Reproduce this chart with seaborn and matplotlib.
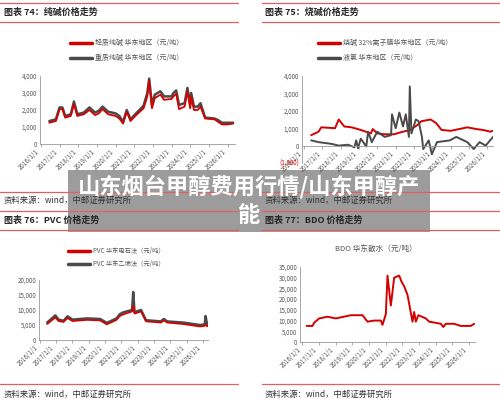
import numpy as np
import matplotlib
matplotlib.use("Agg")
import matplotlib.pyplot as plt
import seaborn as sns
import pandas as pd
from matplotlib.patches import Rectangle
from matplotlib.lines import Line2D

sns.set_theme(style="white")
plt.rcParams['font.family'] = ['Noto Sans CJK SC', 'DejaVu Sans']

RED = "#d40000"
GRAY = "#4a4a4a"
LINE_RED = "#e06060"

# ---- data (year as decimal, value) ----
soda_x = [2016.45, 2016.8, 2017.0, 2017.15, 2017.3, 2017.6, 2017.77, 2017.95, 2018.3, 2018.6, 2018.9, 2019.1, 2019.3,
          2019.6, 2020.0, 2020.2, 2020.4, 2020.6, 2020.8, 2021.1, 2021.5, 2021.7, 2021.8, 2021.95, 2022.1, 2022.4,
          2022.6, 2023.0, 2023.1, 2023.25, 2023.4, 2023.7, 2023.85, 2024.0, 2024.05, 2024.2, 2024.4, 2024.55, 2024.8,
          2025.3, 2025.5, 2025.7, 2026.0, 2026.3]
soda_light = [1250, 1350, 2050, 2050, 1550, 1650, 2350, 1650, 1750, 2000, 1700, 1800, 2050,
              1750, 1650, 1500, 1200, 1900, 1350, 1700, 2100, 2800, 3700, 2100, 2700, 2900,
              2600, 2650, 2800, 2950, 2050, 2200, 3100, 2100, 2800, 2000, 2000, 2200, 1500,
              1450, 1300, 1150, 1150, 1200]
soda_heavy = [1350, 1450, 2150, 2150, 1650, 1750, 2500, 1750, 1850, 2150, 1850, 1950, 2200,
              1900, 1800, 1650, 1300, 2000, 1450, 1800, 2250, 3000, 3850, 2300, 2900, 3100,
              2800, 2800, 3000, 3150, 2300, 2400, 3300, 2300, 3000, 2200, 2200, 2400, 1550,
              1500, 1400, 1250, 1250, 1250]

caustic_x = [2016.4, 2016.8, 2016.95, 2017.7, 2017.9, 2018.2, 2018.6, 2019.1, 2019.65, 2019.75, 2020.0, 2020.4,
             2020.9, 2021.4, 2021.8, 2022.2, 2022.4, 2022.9, 2023.2, 2023.5, 2024.0, 2024.9, 2025.4, 2025.75,
             2026.15, 2026.3]
caustic = [600, 800, 1050, 1000, 1500, 1100, 1050, 900, 700, 950, 700, 650,
           650, 800, 900, 1200, 1400, 1500, 1300, 900, 850, 1050, 950, 900,
           800, 850]
chlorine_x = [2016.4, 2016.8, 2017.5, 2017.9, 2018.4, 2018.75, 2018.85, 2018.95, 2019.1, 2019.4, 2019.5, 2019.7,
              2020.0, 2020.4, 2020.75, 2020.8, 2021.0, 2021.2, 2021.4, 2021.55, 2021.72, 2021.77, 2021.86, 2022.1,
              2022.25, 2022.43, 2022.5, 2022.8, 2022.97, 2023.25, 2023.95, 2024.3, 2024.9, 2025.25, 2025.57, 2025.9,
              2026.3]
chlorine = [300, 200, 100, 0, 50, -100, 300, -150, 400, -50, 800, 200,
            800, 500, 600, 1800, 1000, 1900, 1100, 1800, 500, 3400, 700, 1500,
            1400, 500, -200, 300, -500, 200, 300, 500, 200, -200, 200, 0,
            500]

pvc_x = [2016.45, 2016.95, 2017.15, 2017.45, 2017.7, 2018.0, 2018.9, 2019.7, 2020.1, 2020.7, 2020.9, 2021.1,
         2021.65, 2021.72, 2021.8, 2022.2, 2022.5, 2023.4, 2023.6, 2023.8, 2024.8, 2025.8, 2026.1, 2026.15, 2026.25]
pvc_carbide = [5300, 7500, 6300, 6000, 7300, 6300, 6700, 6500, 5200, 6700, 8000, 8500,
               9500, 11500, 8800, 9500, 6200, 5800, 6500, 5800, 5300, 4500, 4700, 5200, 4500]
pvc_ethylene = [5800, 8200, 6800, 6400, 7900, 6800, 7200, 7000, 5700, 7200, 8600, 9200,
                10000, 16000, 9300, 10000, 6600, 6200, 7000, 6200, 5800, 5000, 5200, 8000, 5000]

bdo_x = [2016.25, 2016.6, 2016.7, 2017.0, 2017.5, 2018.0, 2018.9, 2019.6, 2019.9, 2020.3, 2020.7, 2020.8,
         2021.0, 2021.1, 2021.3, 2021.5, 2021.8, 2021.95, 2022.1, 2022.3, 2022.6, 2022.7, 2022.8, 2022.95,
         2023.4, 2023.6, 2024.3, 2024.45, 2024.6, 2025.1, 2025.5, 2026.1, 2026.3]
bdo = [7500, 7500, 9000, 11000, 11800, 11000, 12500, 12500, 9500, 10000, 10000, 8000,
       13000, 31000, 17000, 30000, 31000, 28000, 26000, 22000, 9500, 14000, 9500, 12500,
       11000, 9500, 8500, 7000, 8500, 8500, 7500, 7500, 8500]

W, H = 500, 401
fig = plt.figure(figsize=(5, 4.01), dpi=100)


def add_ax(l, t, r, b):
    return fig.add_axes([l / W, 1 - b / H, (r - l) / W, (b - t) / H])


def fx(x):
    return x / W


def fy(y):
    return 1 - y / H


def hline(y, x0, x1):
    fig.add_artist(Line2D([fx(x0), fx(x1)], [fy(y), fy(y)], color=LINE_RED, lw=0.9))


def fmt(v):
    return f"({abs(v):,})" if v < 0 else f"{v:,}"


def style(ax, x0, x1, yticks, ylim, zero_axis=False):
    if zero_axis:
        ax.spines["bottom"].set_position(("data", 0))
    ax.set_xlim(x0, x1)
    ax.set_ylim(*ylim)
    ax.set_yticks(yticks)
    ax.set_yticklabels([fmt(v) for v in yticks], fontsize=4.5, color="#555555")
    for lab, v in zip(ax.get_yticklabels(), yticks):
        if v < 0:
            lab.set_color(RED)
    years = list(range(2016, 2027))
    ax.set_xticks(years)
    ax.set_xticklabels([f"{y}/1/1" for y in years], rotation=45, ha="right", fontsize=4.5, color="#555555")
    ax.tick_params(axis="x", length=2, width=0.5, pad=1, color="#888888", bottom=True)
    ax.tick_params(axis="y", length=0, pad=2)
    for s in ["top", "right"]:
        ax.spines[s].set_visible(False)
    for s in ["left", "bottom"]:
        ax.spines[s].set_color("#999999")
        ax.spines[s].set_linewidth(0.6)
    ax.set_xlabel("")
    ax.set_ylabel("")
    ax.patch.set_alpha(0)


# ---- panel 74 ----
ax1 = add_ax(40, 76, 235, 144)
sns.lineplot(x=soda_x, y=soda_heavy, ax=ax1, color=GRAY, lw=1.8)
sns.lineplot(x=soda_x, y=soda_light, ax=ax1, color=RED, lw=1.3)
style(ax1, 2015.95, 2026.4, [0, 1000, 2000, 3000, 4000], (0, 4000))

# ---- panel 75 ----
ax2 = add_ax(302, 76, 493, 163)
sns.lineplot(x=caustic_x, y=caustic, ax=ax2, color=RED, lw=1.4)
sns.lineplot(x=chlorine_x, y=chlorine, ax=ax2, color=GRAY, lw=1.4)
style(ax2, 2015.9, 2026.3, [-1000, 0, 1000, 2000, 3000, 4000], (-1000, 4000), zero_axis=True)

# ---- panel 76 ----
ax3 = add_ax(39, 280, 208, 340)
sns.lineplot(x=pvc_x, y=pvc_ethylene, ax=ax3, color=GRAY, lw=1.8)
sns.lineplot(x=pvc_x, y=pvc_carbide, ax=ax3, color=RED, lw=1.2)
style(ax3, 2015.95, 2026.3, [0, 5000, 10000, 15000, 20000], (0, 20000))

# ---- panel 77 ----
ax4 = add_ax(300, 267, 475, 342)
sns.lineplot(x=bdo_x, y=bdo, ax=ax4, color=RED, lw=1.4)
style(ax4, 2015.85, 2026.35, list(range(0, 35001, 5000)), (0, 35000))

# ---- legends ----
def legend_item(x, y, color, label, size=5):
    fig.add_artist(Line2D([fx(x), fx(x + 22)], [fy(y), fy(y)], color=color, lw=2.5))
    fig.text(fx(x + 25), fy(y), label, fontsize=size, color="#555555", va="center")

legend_item(70, 43, RED, "轻质纯碱 华东地区（元/吨）")
legend_item(70, 58, GRAY, "重质纯碱 华东地区（元/吨）")
legend_item(318, 43, RED, "烧碱 32%离子膜华东地区（元/吨）")
legend_item(318, 58, GRAY, "液氯 华东地区（元/吨）")
legend_item(68, 251, RED, "PVC 华东电石法（元/吨）", 4.5)
legend_item(68, 264, GRAY, "PVC 华东乙烯法（元/吨）", 4.5)
fig.text(fx(376), fy(249), "BDO 华东散水（元/吨）", fontsize=5.5, color="#555555", ha="center", va="center")

# ---- headers and footers ----
hline(3, 0, 238); hline(22, 0, 238)
hline(3, 262, 500); hline(22, 262, 500)
fig.text(fx(4), fy(12), "图表 74：纯碱价格走势", fontsize=6.5, weight="bold", va="center")
fig.text(fx(265), fy(12), "图表 75：烧碱价格走势", fontsize=6.5, weight="bold", va="center")
hline(192, 0, 238); hline(192, 262, 500)
fig.text(fx(4), fy(200), "资料来源：wind，中邮证券研究所", fontsize=6, va="center", color="#333333")
fig.text(fx(265), fy(200), "资料来源：wind，中邮证券研究所", fontsize=6, va="center", color="#333333")
hline(211, 0, 238); hline(230, 0, 238)
hline(211, 262, 500); hline(230, 262, 500)
fig.text(fx(4), fy(220), "图表 76：PVC 价格走势", fontsize=6.5, weight="bold", va="center")
fig.text(fx(265), fy(220), "图表 77：BDO 价格走势", fontsize=6.5, weight="bold", va="center")
hline(384, 0, 238); hline(384, 262, 500)
fig.text(fx(4), fy(394), "资料来源：wind，中邮证券研究所", fontsize=6, va="center", color="#333333")
fig.text(fx(265), fy(394), "资料来源：wind，中邮证券研究所", fontsize=6, va="center", color="#333333")

# ---- overlay banner ----
fig.add_artist(Rectangle((fx(68), fy(232)), fx(430) - fx(68), fy(170) - fy(232),
                         transform=fig.transFigure, facecolor="#5a5a5a", alpha=0.6, edgecolor="none"))
fig.text(fx(249), fy(187), "山东烟台甲醇费用行情/山东甲醇产", fontsize=16, weight="bold",
         color="white", ha="center", va="center")
fig.text(fx(249), fy(215), "能", fontsize=16, weight="bold", color="white", ha="center", va="center")

fig.savefig("out.png", dpi=100, facecolor="white")
